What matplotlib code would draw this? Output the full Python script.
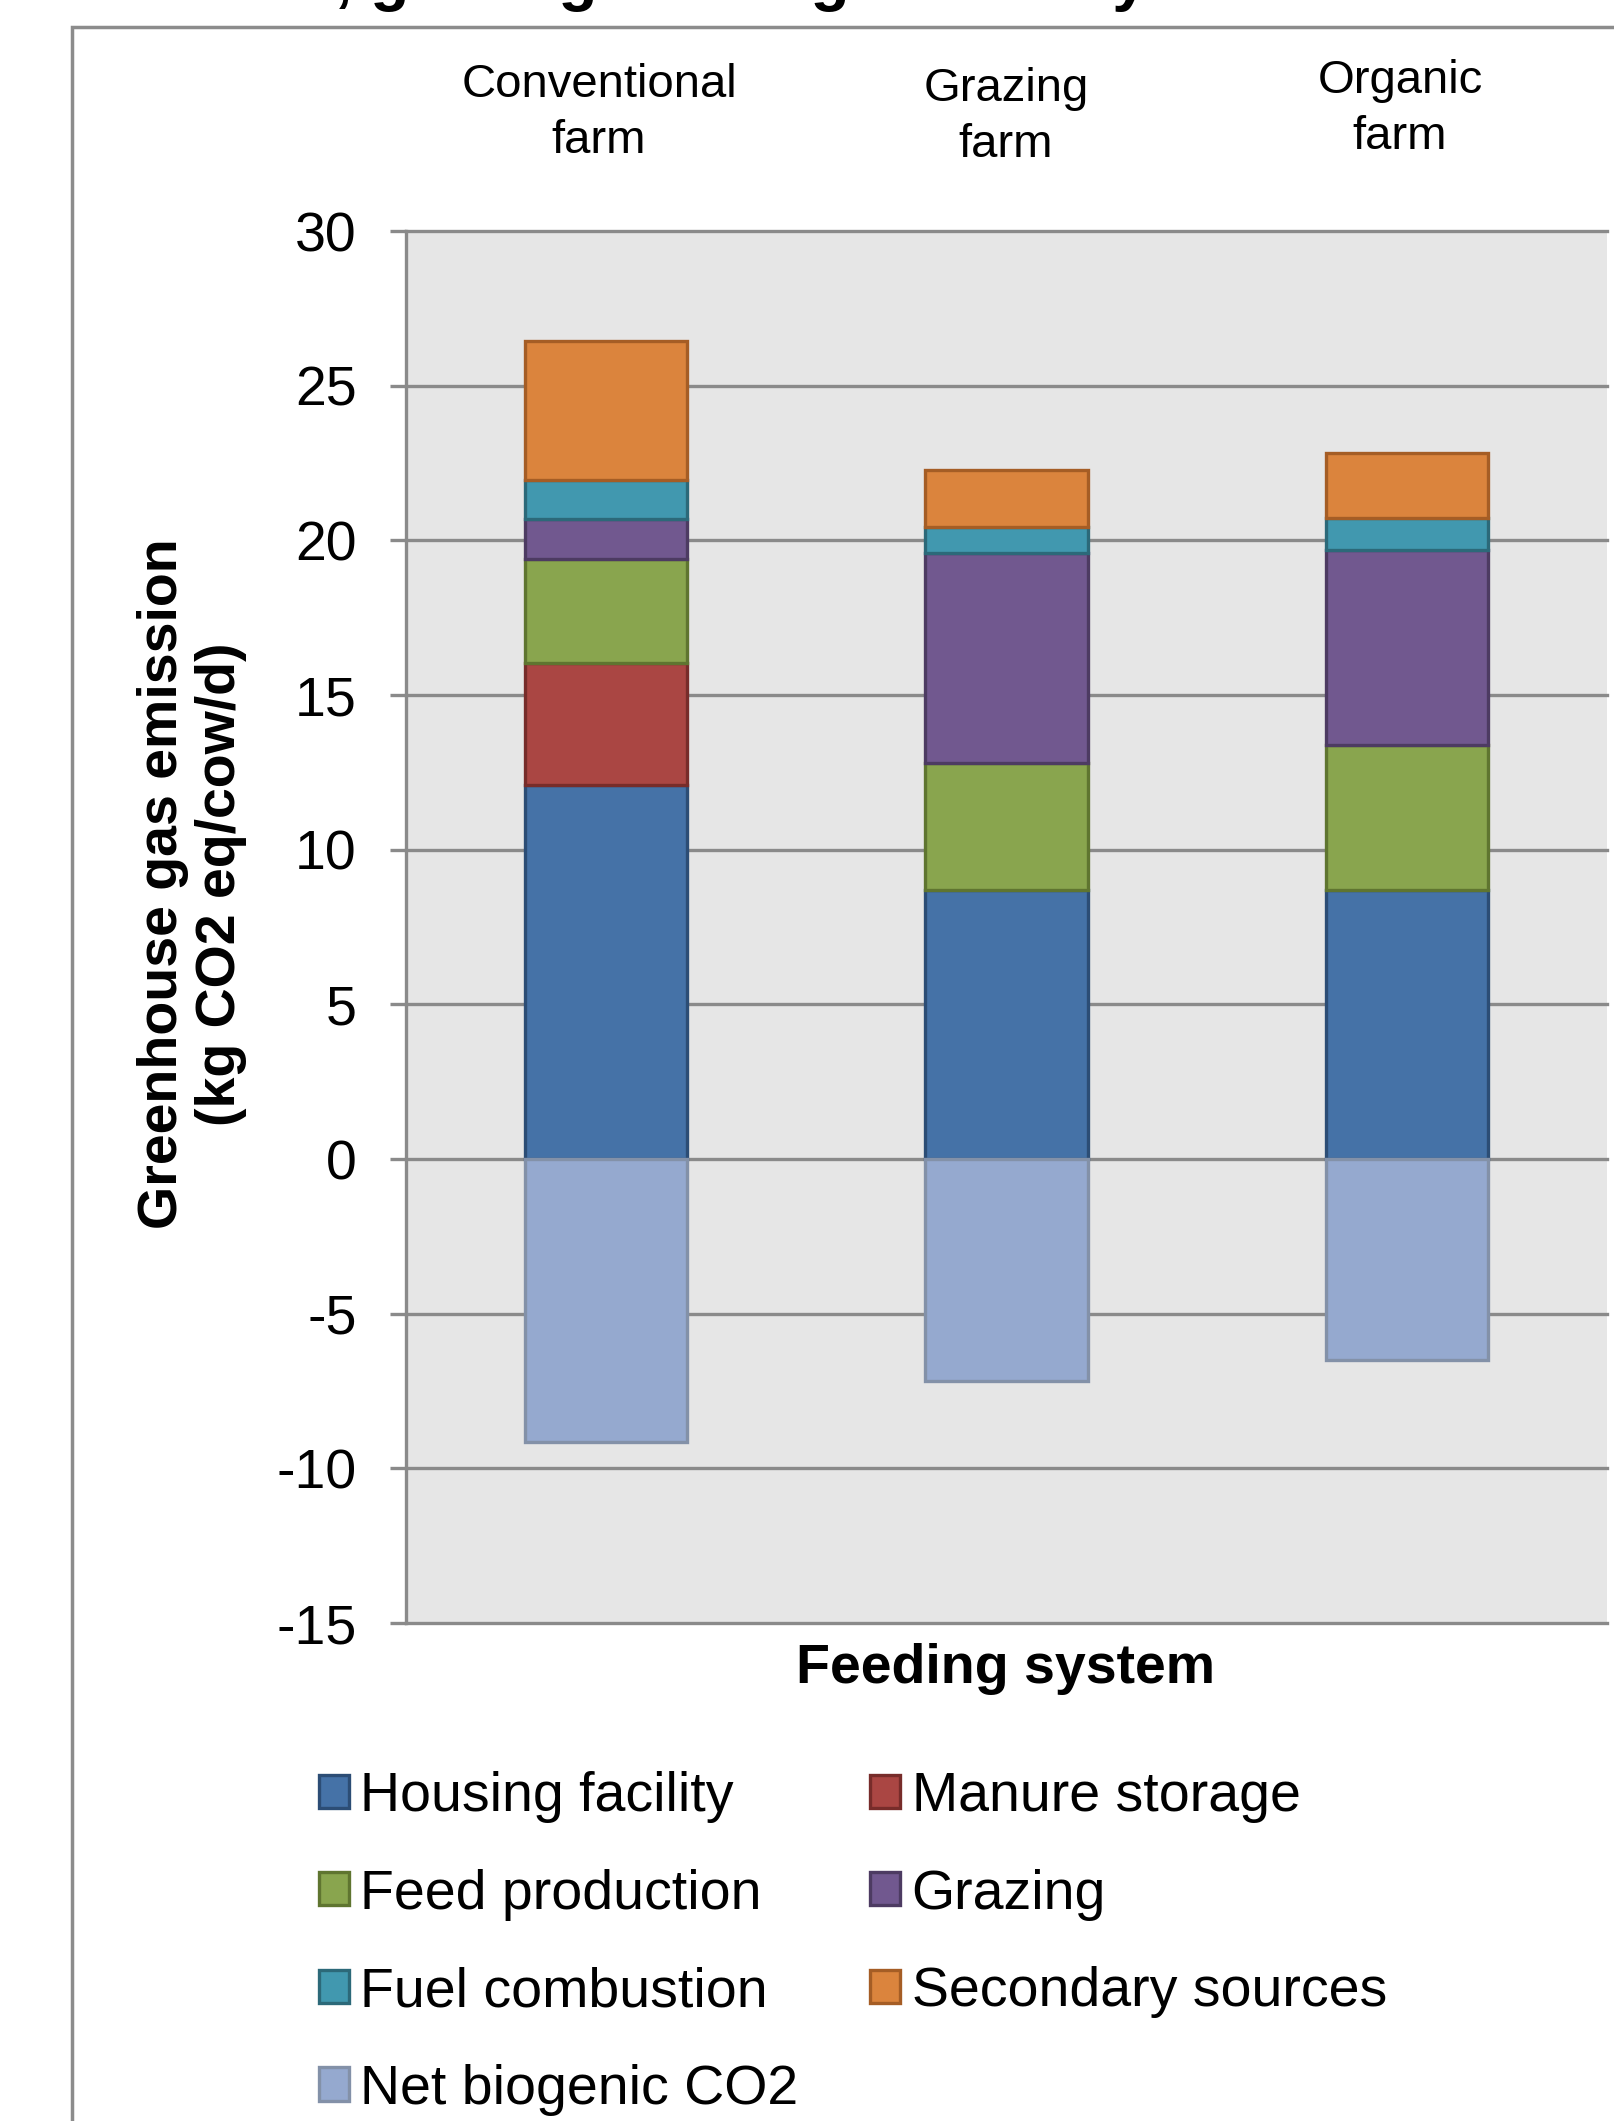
import matplotlib
matplotlib.use("Agg")
import matplotlib.pyplot as plt
from matplotlib.patches import Rectangle
import numpy as np

plt.rcParams['font.family'] = ['Liberation Sans', 'DejaVu Sans']
plt.rcParams['axes.unicode_minus'] = False

# categories and emission components (kg CO2 eq/cow/d)
farms = ['Conventional\nfarm', 'Grazing\nfarm', 'Organic\nfarm']
housing = [12.1, 8.71, 8.71]
manure = [3.95, 0.0, 0.0]
feed = [3.35, 4.1, 4.66]
grazing = [1.3, 6.77, 6.33]
fuel = [1.25, 0.85, 1.03]
secondary = [4.5, 1.83, 2.1]
biogenic = [-9.16, -7.17, -6.51]

series = [
    ('Housing facility', housing, '#4572A7', '#2C4D75'),
    ('Manure storage', manure, '#AA4643', '#772C2A'),
    ('Feed production', feed, '#89A54E', '#5F7530'),
    ('Grazing', grazing, '#71588F', '#4D3B62'),
    ('Fuel combustion', fuel, '#4198AF', '#2C6979'),
    ('Secondary sources', secondary, '#DB843D', '#A55D25'),
]

W, H = 1615, 2121
fig = plt.figure(figsize=(W / 100, H / 100), dpi=100)

def fx(px):
    return px / W

def fy(py):
    return 1 - py / H

# outer chart frame, cut at the right and bottom
fig.add_artist(Rectangle((fx(72), fy(2300)), 1.2, fy(27) - fy(2300),
                         transform=fig.transFigure, fill=False,
                         edgecolor='#8C8C8C', linewidth=2.5))

# title, mostly above the visible area
fig.text(fx(-70), fy(-1), 'Conventional, grazing and organic dairy farms',
         fontsize=46, fontweight='bold', ha='left', va='baseline')

ax = fig.add_axes([fx(406), fy(1623), fx(1201), fy(231) - fy(1623)])
ax.set_facecolor('#E6E6E6')

x = np.arange(len(farms))
bw = 0.405
bottom = np.zeros(len(farms))
handles = {}
for name, vals, fc, ec in series:
    vals = np.array(vals)
    keep = vals > 0
    bars = ax.bar(x[keep], vals[keep], bw, bottom=bottom[keep], color=fc,
                  edgecolor=ec, linewidth=2.4, zorder=3, label=name)
    handles[name] = bars
    bottom = bottom + vals
bars = ax.bar(x, biogenic, bw, color='#95A9CF', edgecolor='#8391A8',
              linewidth=2.4, zorder=3, label='Net biogenic CO2')
handles['Net biogenic CO2'] = bars

ax.set_xlim(-0.5, 2.5)
ax.set_ylim(-15, 30)
ax.set_yticks(np.arange(-15, 31, 5))
ax.set_xticks([])
ax.yaxis.grid(True, color='#8A8A8A', linewidth=2.4, zorder=1)
ax.set_axisbelow(True)
for gl in ax.get_ygridlines():
    gl.set_clip_on(False)
for s in ['top', 'right', 'bottom']:
    ax.spines[s].set_visible(False)
ax.spines['left'].set_color('#8A8A8A')
ax.spines['left'].set_linewidth(2.4)
ax.tick_params(axis='y', length=11.5, width=2.4, color='#8A8A8A',
               labelsize=40, pad=24)

# category labels above the bars
for lab, px, py in zip(farms, [599, 1006, 1400], [113, 117, 109]):
    fig.text(fx(px), fy(py), lab, fontsize=34, ha='center', va='center',
             multialignment='center', linespacing=1.36)

fig.text(fx(192), fy(884), 'Greenhouse gas emission\n(kg CO2 eq/cow/d)',
         fontsize=40, fontweight='bold', rotation=90, ha='center',
         va='center', multialignment='center', linespacing=1.15)
fig.text(fx(1006), fy(1669), 'Feeding system', fontsize=40,
         fontweight='bold', ha='center', va='center')

order = ['Housing facility', 'Feed production', 'Fuel combustion',
         'Net biogenic CO2', 'Manure storage', 'Grazing', 'Secondary sources']
fig.legend([handles[n] for n in order], order, ncol=2, frameon=False,
           loc='upper left', bbox_to_anchor=(fx(319), fy(1771)),
           fontsize=40, handlelength=0.54, handleheight=0.54,
           handletextpad=0.2, columnspacing=1.3, labelspacing=0.82,
           borderpad=0, borderaxespad=0)

fig.savefig('out.png', dpi=100)
